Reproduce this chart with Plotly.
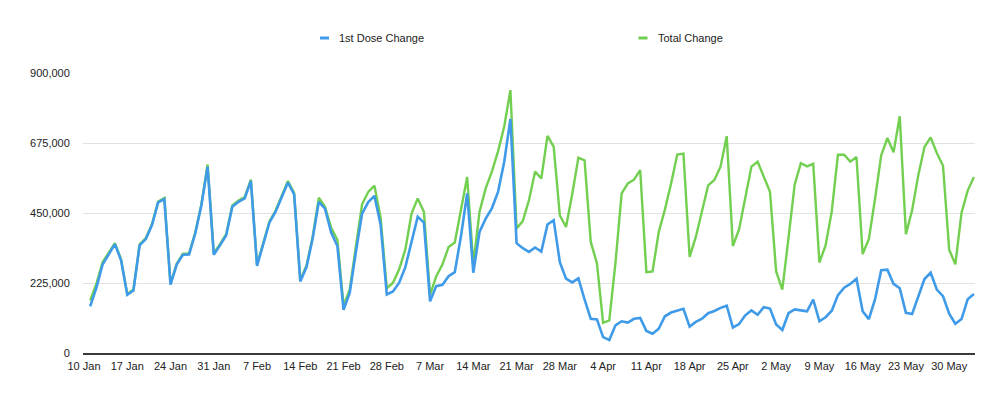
import pandas as pd
import plotly.graph_objects as go

# Daily values (thousands), 11 Jan 2021 .. 3 Jun 2021
first_dose_k = [
    150, 209, 284, 319, 350, 298, 187, 201, 346, 366, 411, 484, 495, 220, 284, 316, 317, 384, 475, 599,
    316, 346, 378, 470, 486, 497, 553, 280, 352, 419, 454, 499, 548, 510, 230, 276, 368, 486, 464, 387,
    344, 139, 193, 325, 448, 485, 505, 412, 188, 198, 226, 276, 362, 438, 419, 166, 215, 219, 247, 260,
    375, 513, 258, 389, 432, 465, 518, 615, 752, 353, 337, 325, 339, 326, 413, 427, 292, 239, 227, 240,
    172, 110, 108, 51, 42, 89, 102, 98, 110, 113, 71, 62, 78, 118, 130, 137, 142, 85, 100, 110,
    128, 135, 145, 152, 82, 93, 121, 137, 123, 147, 143, 92, 74, 128, 140, 137, 134, 172, 102, 115,
    136, 186, 210, 222, 239, 134, 109, 172, 266, 268, 222, 208, 129, 125, 184, 238, 258, 204, 183, 126,
    94, 109, 173, 190,
]
total_k = [
    169, 222, 292, 323, 353, 301, 190, 204, 349, 369, 414, 487, 498, 223, 287, 319, 320, 387, 479, 606,
    320, 350, 382, 474, 490, 501, 557, 284, 356, 423, 458, 503, 553, 515, 235, 281, 374, 499, 470, 402,
    364, 153, 204, 343, 478, 518, 538, 434, 208, 226, 269, 333, 448, 497, 454, 187, 247, 284, 341, 355,
    458, 566, 285, 454, 529, 583, 648, 728, 845, 400, 424, 491, 583, 561, 698, 663, 442, 405, 510, 628,
    619, 357, 288, 97, 105, 290, 513, 545, 557, 588, 260, 262, 389, 461, 545, 638, 641, 309, 373, 459,
    539, 556, 599, 697, 344, 397, 497, 599, 615, 567, 518, 262, 204, 370, 542, 610, 600, 608, 291, 346,
    455, 637, 637, 615, 630, 318, 366, 495, 635, 691, 645, 761, 382, 459, 571, 662, 693, 643, 602, 332,
    285, 451, 522, 566,
]
start_date = "2021-01-11"
tick_dates = pd.date_range("2021-01-10", periods=21, freq="7D")
tick_labels = ["10 Jan", "17 Jan", "24 Jan", "31 Jan", "7 Feb", "14 Feb", "21 Feb", "28 Feb",
               "7 Mar", "14 Mar", "21 Mar", "28 Mar", "4 Apr", "11 Apr", "18 Apr", "25 Apr",
               "2 May", "9 May", "16 May", "23 May", "30 May"]
y_ticks = [0, 225000, 450000, 675000, 900000]
y_tick_labels = ["0", "225,000", "450,000", "675,000", "900,000"]

dates = pd.date_range(start_date, periods=len(first_dose_k), freq="D")
first_dose = [v * 1000 for v in first_dose_k]
total = [v * 1000 for v in total_k]

BLUE = "#3f9be8"
GREEN = "#72cf50"
FONT = "Liberation Sans, Arial, Helvetica, sans-serif"

fig = go.Figure()
fig.add_trace(go.Scatter(x=dates, y=total, mode="lines", name="Total Change",
                         line=dict(color=GREEN, width=2.4), showlegend=False))
fig.add_trace(go.Scatter(x=dates, y=first_dose, mode="lines", name="1st Dose Change",
                         line=dict(color=BLUE, width=2.6), showlegend=False))

L, R, T, B = 83, 975, 73, 353
W, H = 1000, 399

def px_x(p):
    return (p - L) / (R - L)

def px_y(p):
    return (B - p) / (B - T)

legend_items = [("1st Dose Change", BLUE, 320), ("Total Change", GREEN, 638.5)]
for label, color, x0 in legend_items:
    fig.add_shape(type="line", xref="paper", yref="paper",
                  x0=px_x(x0), x1=px_x(x0 + 9), y0=px_y(38), y1=px_y(38),
                  line=dict(color=color, width=3))
    fig.add_annotation(text=label, xref="paper", yref="paper", x=px_x(x0 + 17), y=px_y(38),
                       xanchor="left", yanchor="middle", showarrow=False,
                       font=dict(family=FONT, size=11, color="#222"))

fig.update_layout(
    width=W, height=H,
    margin=dict(l=L, r=W - R, t=T, b=H - B),
    paper_bgcolor="white", plot_bgcolor="white",
    font=dict(family=FONT, size=11, color="#222"),
    xaxis=dict(
        type="date",
        range=["2021-01-09 20:07", "2021-06-03 04:16"],
        tickvals=tick_dates, ticktext=tick_labels,
        showgrid=False, zeroline=False,
        showline=True, linecolor="#3a3a3a", linewidth=1.5,
        ticks="outside", ticklen=2, tickcolor="rgba(0,0,0,0)",
        tickfont=dict(family=FONT, size=11, color="#222"),
    ),
    yaxis=dict(
        range=[0, 900000],
        tickvals=y_ticks, ticktext=y_tick_labels,
        showgrid=True, gridcolor="#e2e2e2", gridwidth=1,
        zeroline=False, showline=False,
        ticks="outside", ticklen=10, tickcolor="rgba(0,0,0,0)",
        tickfont=dict(family=FONT, size=11, color="#222"),
    ),
)

fig.write_html("out.html")
